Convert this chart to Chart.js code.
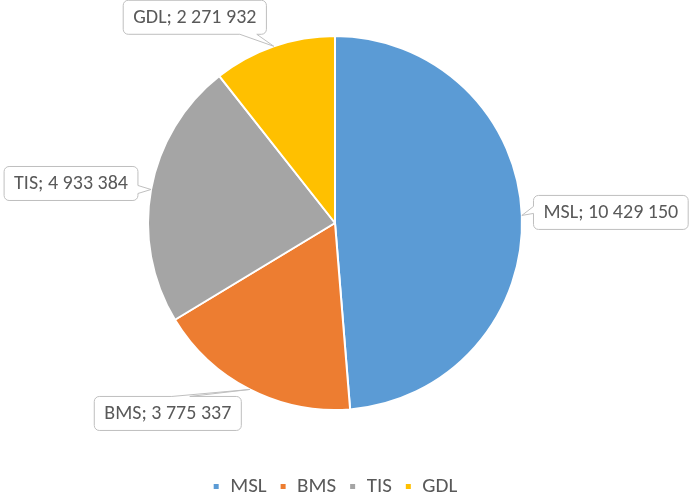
<!DOCTYPE html>
<html>
<head>
    <title>Pie</title>
    <script src="https://cdn.jsdelivr.net/npm/chart.js"></script>
    <style>
        html, body { margin: 0; padding: 0; background: #fff; }
        #wrap { width: 691px; height: 496px; }
    </style>
</head>
<body>
    <div id="wrap"><canvas id="myChart" width="691" height="496"></canvas></div>
    <script>
        const labels = ['MSL', 'BMS', 'TIS', 'GDL'];
        const values = [10429150, 3775337, 4933384, 2271932];
        const colors = ['#5B9BD5', '#ED7D31', '#A5A5A5', '#FFC000'];

        // where each callout box sits, relative to the edge point of its slice
        const callouts = [
            {dx: 89, dy: -3, side: 'left', base: [-6, 1]},
            {dx: -82, dy: 24, side: 'top', base: [4, 22]},
            {dx: -80, dy: -6, side: 'right', base: [2, 10]},
            {dx: -79, dy: -29, side: 'bottom', base: [45, 62]}
        ];

        const fontFamily = "Carlito, 'Open Sans', sans-serif";
        const textFont = "20px " + fontFamily;
        const textColor = '#595959';

        function formatNumber(v) {
            return v.toString().replace(/\B(?=(\d{3})+(?!\d))/g, ' ');
        }

        function calloutPath(ctx, x, y, w, h, r, side, b1, b2, tx, ty) {
            ctx.beginPath();
            ctx.moveTo(x + r, y);
            if (side === 'top') { ctx.lineTo(b1, y); ctx.lineTo(tx, ty); ctx.lineTo(b2, y); }
            ctx.lineTo(x + w - r, y);
            ctx.arcTo(x + w, y, x + w, y + r, r);
            if (side === 'right') { ctx.lineTo(x + w, b1); ctx.lineTo(tx, ty); ctx.lineTo(x + w, b2); }
            ctx.lineTo(x + w, y + h - r);
            ctx.arcTo(x + w, y + h, x + w - r, y + h, r);
            if (side === 'bottom') { ctx.lineTo(b2, y + h); ctx.lineTo(tx, ty); ctx.lineTo(b1, y + h); }
            ctx.lineTo(x + r, y + h);
            ctx.arcTo(x, y + h, x, y + h - r, r);
            if (side === 'left') { ctx.lineTo(x, b2); ctx.lineTo(tx, ty); ctx.lineTo(x, b1); }
            ctx.lineTo(x, y + r);
            ctx.arcTo(x, y, x + r, y, r);
            ctx.closePath();
        }

        const calloutPlugin = {
            id: 'callouts',
            afterDraw(chart) {
                const ctx = chart.ctx;
                const meta = chart.getDatasetMeta(0);
                ctx.save();
                ctx.font = textFont;
                meta.data.forEach((arc, i) => {
                    const p = arc.getProps(['x', 'y', 'startAngle', 'endAngle', 'outerRadius'], true);
                    const mid = (p.startAngle + p.endAngle) / 2;
                    const ax = p.x + Math.cos(mid) * p.outerRadius;
                    const ay = p.y + Math.sin(mid) * p.outerRadius;
                    const c = callouts[i];
                    const text = labels[i] + '; ' + formatNumber(values[i]);
                    const w = ctx.measureText(text).width + 20;
                    const h = 34;
                    const cx = ax + c.dx;
                    const cy = ay + c.dy;
                    const x = cx - w / 2;
                    const y = cy - h / 2;
                    const horiz = c.side === 'top' || c.side === 'bottom';
                    const b1 = (horiz ? cx : cy) + c.base[0];
                    const b2 = (horiz ? cx : cy) + c.base[1];
                    calloutPath(ctx, x, y, w, h, 5, c.side, b1, b2, ax, ay);
                    ctx.fillStyle = '#ffffff';
                    ctx.fill();
                    ctx.lineWidth = 1;
                    ctx.strokeStyle = '#bfbfbf';
                    ctx.stroke();
                    ctx.fillStyle = textColor;
                    ctx.textAlign = 'center';
                    ctx.textBaseline = 'middle';
                    ctx.fillText(text, cx, cy + 1);
                });
                ctx.restore();
            }
        };

        const ctx = document.getElementById('myChart').getContext('2d');
        new Chart(ctx, {
            type: 'pie',
            data: {
                labels: labels,
                datasets: [{
                    data: values,
                    backgroundColor: colors,
                    borderColor: '#ffffff',
                    borderWidth: 2,
                    radius: 187
                }]
            },
            options: {
                responsive: false,
                animation: false,
                layout: {
                    padding: {top: 0, bottom: -11, left: 0, right: 21}
                },
                plugins: {
                    tooltip: {enabled: false},
                    legend: {
                        position: 'bottom',
                        title: {display: true, text: ' ', font: {size: 10}, padding: {top: 3, bottom: 2}},
                        labels: {
                            usePointStyle: true,
                            pointStyle: 'rect',
                            boxWidth: 7,
                            boxHeight: 7,
                            padding: 13,
                            color: textColor,
                            font: {family: fontFamily, size: 21}
                        }
                    }
                }
            },
            plugins: [calloutPlugin]
        });
    </script>
</body>
</html>
